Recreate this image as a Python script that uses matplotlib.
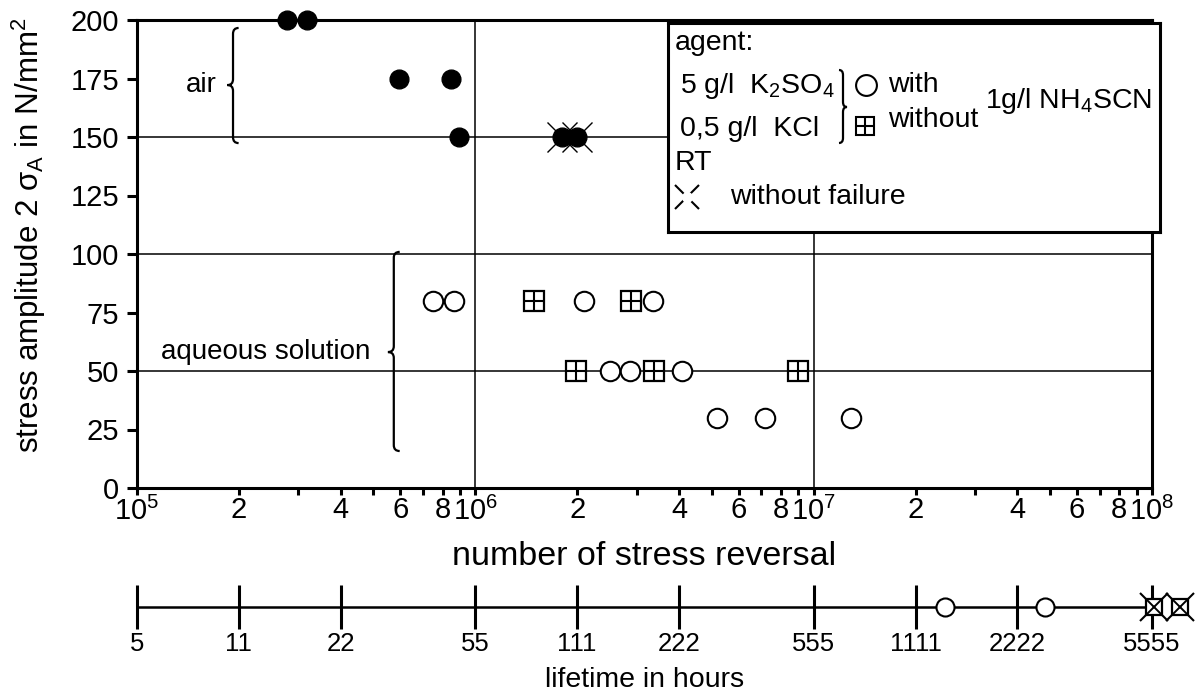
import numpy as np
import matplotlib
matplotlib.use('Agg')
import matplotlib.pyplot as plt
from matplotlib.path import Path
from matplotlib.patches import PathPatch
from matplotlib.ticker import FixedLocator, FuncFormatter, NullLocator

plt.rcParams['font.family'] = ['Liberation Sans', 'DejaVu Sans']
plt.rcParams['mathtext.fontset'] = 'custom'
plt.rcParams['mathtext.rm'] = 'Liberation Sans'
plt.rcParams['mathtext.it'] = 'Liberation Sans:italic'
plt.rcParams['mathtext.bf'] = 'Liberation Sans:bold'
plt.rcParams['mathtext.default'] = 'regular'

# ---------------- data ----------------
air_cycles = [2.77e5, 3.17e5, 5.96e5, 8.48e5, 8.97e5, 1.80e6, 2.00e6]
air_stress = [200, 200, 175, 175, 150, 150, 150]
runout_cycles = [1.80e6, 2.00e6]
runout_stress = [150, 150]

with_cycles = [7.51e5, 8.65e5, 2.09e6, 3.36e6, 2.50e6, 2.87e6, 4.07e6, 5.19e6, 7.18e6, 1.29e7]
with_stress = [80, 80, 80, 80, 50, 50, 50, 30, 30, 30]

without_cycles = [1.49e6, 2.89e6, 1.99e6, 3.38e6, 9.01e6]
without_stress = [80, 80, 50, 50, 50]

y_ticks = [0, 25, 50, 75, 100, 125, 150, 175, 200]
grid_y = [50, 100, 150]
grid_x = [1e6, 1e7]
x_decades = [1e5, 1e6, 1e7, 1e8]

cycles_per_hour = 18000.0
life_ticks = [5.556, 11.11, 22.22, 55.55, 111.1, 222.2, 555.5, 1111, 2222, 5555]
life_labels = ['5', '11', '22', '55', '111', '222', '555', '1111', '2222', '5555']
life_with_hours = [1355, 2678]
life_runout_hours = [5635, 6727]

# ---------------- helpers ----------------
def brace(ax, x, y0, y1, ym, w, r, d, transform, lw=1.6):
    """curly brace: spine at x, ends at x-d*w, tip at x+d*w"""
    xe = x - d * w
    xt = x + d * w
    verts = [(xe, y1), (x, y1), (x, y1 - r),
             (x, ym + r), (x, ym), (xt, ym),
             (x, ym), (x, ym - r),
             (x, y0 + r), (x, y0), (xe, y0)]
    codes = [Path.MOVETO, Path.CURVE3, Path.CURVE3,
             Path.LINETO, Path.CURVE3, Path.CURVE3,
             Path.CURVE3, Path.CURVE3,
             Path.LINETO, Path.CURVE3, Path.CURVE3]
    p = PathPatch(Path(verts, codes), fill=False, lw=lw, color='black',
                  transform=transform, clip_on=False, zorder=6)
    ax.add_patch(p)

W, H = 1200, 692
fig = plt.figure(figsize=(W / 100, H / 100), dpi=100)

ax = fig.add_axes([137 / W, 204 / H, 1015 / W, 468 / H])
ax.set_xscale('log')
ax.set_xlim(x_decades[0], x_decades[-1])
ax.set_ylim(y_ticks[0], y_ticks[-1])

for s in ax.spines.values():
    s.set_linewidth(2.2)

for y in grid_y:
    ax.axhline(y, color='black', lw=1.1, zorder=1)
for x in grid_x:
    ax.axvline(x, color='black', lw=1.1, zorder=1)

# ticks
ax.set_yticks(y_ticks)
ax.tick_params(axis='y', direction='out', length=7, width=2.2, labelsize=21, pad=6)
ax.xaxis.set_major_locator(FixedLocator(x_decades))
ax.xaxis.set_major_formatter(FuncFormatter(lambda v, p: r'$10^{%d}$' % round(np.log10(v))))
minor = [k * 10.0 ** d for d in range(5, 8) for k in range(2, 10)]
ax.xaxis.set_minor_locator(FixedLocator(minor))
def minfmt(v, p):
    k = int(round(v / 10 ** np.floor(np.log10(v) + 1e-9)))
    return str(k) if k in (2, 4, 6, 8) else ''
ax.xaxis.set_minor_formatter(FuncFormatter(minfmt))
ax.tick_params(axis='x', which='both', direction='out', length=5, width=2.2,
               labelsize=21, pad=1)

ax.set_xlabel('number of stress reversal', fontsize=24.5, labelpad=11)
ax.set_ylabel(r'stress amplitude 2 σ$_A$ in N/mm$^2$', fontsize=22.5)
ax.yaxis.set_label_coords(-0.088, 0.54)

# data points
ax.plot(runout_cycles, runout_stress, 'x', ms=21, mew=1.0, color='black',
        zorder=4, clip_on=False)
ax.plot(air_cycles, air_stress, 'o', ms=13.5, mfc='black', mec='black',
        zorder=5, clip_on=False)
ax.plot(with_cycles, with_stress, 'o', ms=14, mfc='white', mec='black',
        mew=1.5, zorder=5, ls='none')
ax.plot(without_cycles, without_stress, 's', ms=14.5, mfc='white', mec='black',
        mew=1.6, zorder=5, ls='none')
ax.plot(without_cycles, without_stress, '+', ms=14.5, mec='black',
        mew=1.5, zorder=6, ls='none')

# braces and group labels
bt = ax.get_yaxis_transform()
brace(ax, 0.0946, 147.4, 196.6, 172.2, 0.0055, 2.5, -1, bt)
ax.text(0.079, 172.2, 'air', transform=bt, ha='right', va='center', fontsize=20)
brace(ax, 0.253, 15.8, 100.9, 58.1, 0.0058, 2.5, -1, bt)
ax.text(0.2296, 58.1, 'aqueous solution', transform=bt, ha='right', va='center',
        fontsize=20)

# ---------------- legend box ----------------
lx0, ly0, lx1, ly1 = 668, 23, 1160, 232
lax = fig.add_axes([lx0 / W, (H - ly1) / H, (lx1 - lx0) / W, (ly1 - ly0) / H])
lax.set_zorder(10)
lax.set_xlim(0, lx1 - lx0)
lax.set_ylim(ly1 - ly0, 0)
lax.set_xticks([]); lax.set_yticks([])
lax.set_facecolor('white')
for s in lax.spines.values():
    s.set_linewidth(2.2)
fs = 20.5
lax.text(7, 20, 'agent:', fontsize=fs, va='center', ha='left')
lax.text(12, 63, r'5 g/l  K$_2$SO$_4$', fontsize=fs, va='center', ha='left')
lax.text(12, 106, r'0,5 g/l  KCl', fontsize=fs, va='center', ha='left')
brace(lax, 175, 47, 120, 84, 4, 5, 1, lax.transData)
lax.plot([198], [62], 'o', ms=15, mfc='white', mec='black', mew=1.5)
lax.text(220, 62, 'with', fontsize=fs, va='center', ha='left')
lax.plot([197], [103], 's', ms=13, mfc='white', mec='black', mew=1.5)
lax.plot([197], [103], '+', ms=13, mec='black', mew=1.5)
lax.text(220, 97, 'without', fontsize=fs, va='center', ha='left')
lax.text(317, 78, r'1g/l NH$_4$SCN', fontsize=fs, va='center', ha='left')
lax.text(7, 140, 'RT', fontsize=fs, va='center', ha='left')
lax.plot([19], [174], 'x', ms=17, mec='black', mew=1.5)
lax.plot([19], [174], 'o', ms=8, mfc='white', mec='white', mew=0)
lax.text(62, 174, 'without failure', fontsize=fs, va='center', ha='left')

# ---------------- lifetime axis ----------------
ax2 = fig.add_axes([137 / W, (H - 607) / H, 1015 / W, 0.02])
ax2.set_xscale('log')
ax2.set_xlim(x_decades[0] / cycles_per_hour, x_decades[-1] / cycles_per_hour)
ax2.set_ylim(0, 1)
ax2.patch.set_alpha(0)
for k in ('left', 'right', 'top'):
    ax2.spines[k].set_visible(False)
ax2.spines['bottom'].set_linewidth(1.8)
ax2.spines['bottom'].set_bounds(life_ticks[0], life_runout_hours[0])
ax2.set_yticks([])
ax2.xaxis.set_major_locator(FixedLocator(life_ticks))
ax2.set_xticklabels(life_labels)
ax2.xaxis.set_minor_locator(NullLocator())
ax2.tick_params(axis='x', direction='inout', length=32, width=2.2, labelsize=18.5, pad=2)
ax2.set_xlabel('lifetime in hours', fontsize=20.5, labelpad=8)

ax2.plot(life_with_hours, [0] * len(life_with_hours), 'o', ms=13, mfc='white',
         mec='black', mew=1.5, clip_on=False, zorder=5, ls='none')
ax2.plot(life_runout_hours, [0] * len(life_runout_hours), 'x', ms=20, mec='black',
         mew=1.5, clip_on=False, zorder=4, ls='none')
ax2.plot(life_runout_hours, [0] * len(life_runout_hours), 's', ms=12, mfc='white',
         mec='black', mew=1.6, clip_on=False, zorder=5, ls='none')
ax2.plot(life_runout_hours, [0] * len(life_runout_hours), 'x', ms=12, mec='black',
         mew=1.4, clip_on=False, zorder=6, ls='none')

fig.savefig('out.png', dpi=100)
